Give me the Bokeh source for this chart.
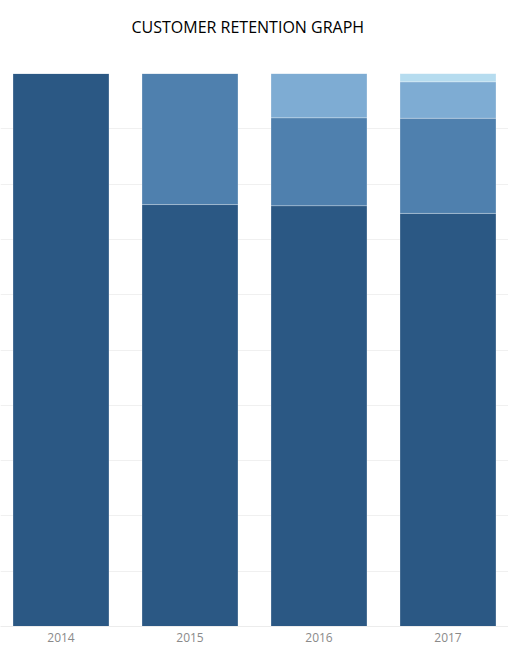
from bokeh.embed import file_html
from bokeh.models import FactorRange, Range1d
from bokeh.plotting import figure
from bokeh.resources import INLINE

# order years, stacked shares (% of customers by first-purchase cohort)
years = ["2014", "2015", "2016", "2017"]
cohort_2014 = [100.0, 76.3, 76.1, 74.7]
cohort_2015 = [0.0, 23.7, 15.9, 17.2]
cohort_2016 = [0.0, 0.0, 8.0, 6.6]
cohort_2017 = [0.0, 0.0, 0.0, 1.5]

cohorts = ["c2014", "c2015", "c2016", "c2017"]
colors = ["#2b5884", "#4f80ae", "#7eacd3", "#b6dcef"]

data = {"year": years, "c2014": cohort_2014, "c2015": cohort_2015,
        "c2016": cohort_2016, "c2017": cohort_2017}

p = figure(
    width=508, height=650, output_backend="svg", toolbar_location=None,
    x_range=FactorRange(*years, range_padding=-0.031, range_padding_units="absolute"),
    y_range=Range1d(0, 100),
    min_border_left=0, min_border_right=0, min_border_top=73, min_border_bottom=24,
    outline_line_color=None, background_fill_color="white",
)
p.title.text = "CUSTOMER RETENTION GRAPH"
p.title.align = "left"
p.title.offset = 131
p.title.vertical_align = "top"
p.title.text_font = "Open Sans"
p.title.text_font_size = "16px"
p.title.text_font_style = "normal"
p.title.text_color = "#000000"
p.title.standoff = 30
p.title.padding = dict(left=0, right=0, top=0, bottom=19)

p.vbar_stack(cohorts, x="year", width=0.744, color=colors, source=data,
             line_color="white", line_alpha=0.25, line_width=1)

p.yaxis.visible = False
p.ygrid.ticker = list(range(0, 101, 10))
p.ygrid.grid_line_color = "#f0f0f0"
p.xgrid.grid_line_color = None

p.xaxis.axis_line_color = "#ececec"
p.xaxis.major_tick_line_color = None
p.xaxis.minor_tick_line_color = None
p.xaxis.major_label_text_font = "Open Sans"
p.xaxis.major_label_text_font_size = "12px"
p.xaxis.major_label_text_color = "#8a8a8a"
p.xaxis.major_label_standoff = 0

open("out.html", "w").write(file_html(p, INLINE))
